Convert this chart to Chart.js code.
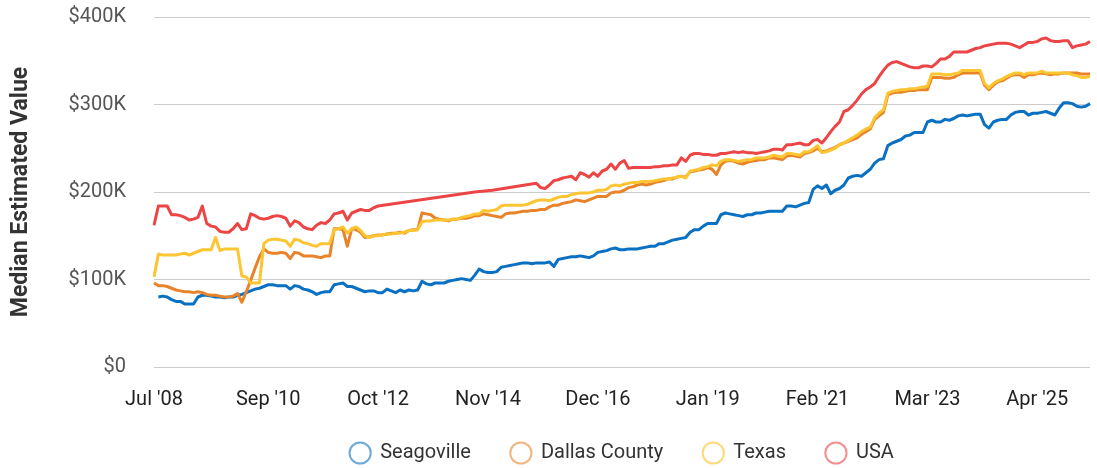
<!DOCTYPE html>
<html>
<head>
<meta charset="utf-8">
<script src="https://cdn.jsdelivr.net/npm/chart.js@4/dist/chart.umd.min.js"></script>
<style>
  html, body { margin: 0; padding: 0; background: #fff; }
  canvas { display: block; }
</style>
</head>
<body>
<canvas id="c" width="1097" height="468"></canvas>
<script>
// ---- data (values in $K), monthly from Jul 2008 ----
const startYear = 2008, startMonth = 6, monthCount = 214;
const monthNames = ['Jan','Feb','Mar','Apr','May','Jun','Jul','Aug','Sep','Oct','Nov','Dec'];
const tickLabels = ["Jul '08","Sep '10","Oct '12","Nov '14","Dec '16","Jan '19","Feb '21","Mar '23","Apr '25"];
const seriesNames = ['Seagoville','Dallas County','Texas','USA'];

const seagoville = [null,80,81,80,77,75,75,72,72,72,80,82,82,81,80,80,79,80,80,82,83,85,87,89,90,92,94,94,93,93,93,89,93,92,89,88,86,83,85,86,86,94,95,96,92,92,90,88,86,87,87,85,85,89,87,85,88,86,88,87,88,98,95,94,96,96,96,98,99,100,101,100,99,105,112,109,108,108,109,114,115,116,117,118,119,119,118,119,119,119,120,115,123,124,125,126,126,127,126,125,127,131,132,133,135,136,134,134,135,135,135,136,137,138,138,141,141,143,145,146,147,148,154,157,157,161,164,164,164,174,176,175,174,173,172,174,174,176,176,177,178,178,178,178,184,184,183,185,187,188,203,207,204,208,198,202,204,208,216,218,219,218,222,226,233,237,238,253,256,258,260,264,265,268,268,268,280,282,280,280,283,282,284,287,288,287,288,289,289,277,273,280,282,283,283,288,291,292,292,288,290,290,291,292,290,288,296,302,302,301,298,297,298,301];

const dallasCounty = [96,93,93,92,90,88,87,86,86,85,86,85,83,82,82,81,80,80,81,84,74,86,99,113,126,135,131,130,130,131,130,124,131,130,127,127,127,126,125,127,127,158,158,157,138,158,157,154,148,149,150,151,151,152,153,153,154,153,156,157,157,176,175,174,170,169,168,167,169,169,170,170,171,173,173,175,174,173,172,171,175,176,176,177,178,178,179,179,180,180,183,185,185,187,188,189,191,190,189,191,193,195,195,195,199,200,200,202,205,206,208,209,208,209,211,212,213,215,215,217,218,217,223,224,225,226,228,226,220,231,235,236,235,233,232,234,235,236,237,237,239,239,238,237,241,242,241,240,244,245,247,250,246,247,249,251,254,256,258,260,262,266,269,272,283,287,291,311,313,314,314,315,316,316,317,317,317,331,331,331,330,330,331,334,336,336,336,336,336,322,317,322,326,327,330,333,334,334,331,334,334,335,336,335,334,335,335,336,336,336,336,335,335,335];

const texas = [103,129,128,128,128,128,129,130,128,130,132,134,134,134,148,133,135,135,135,135,104,103,96,96,96,141,145,146,146,145,144,138,146,145,142,141,139,138,141,141,141,157,158,160,153,158,160,156,150,148,150,150,151,152,152,153,153,154,156,156,157,166,167,167,168,168,168,168,169,169,171,172,173,175,175,179,178,179,180,184,185,185,185,185,185,186,188,190,191,191,190,192,194,195,195,197,198,199,199,199,200,202,202,203,207,208,207,209,210,211,211,212,212,212,213,214,215,215,216,217,218,216,224,225,226,228,229,231,230,235,237,237,236,235,236,237,237,239,239,239,240,242,241,240,244,244,243,242,246,246,249,253,245,246,248,250,254,256,259,262,265,269,272,274,285,290,294,313,315,316,317,317,318,318,319,320,321,335,335,335,334,334,335,336,339,339,339,339,339,324,319,324,327,329,332,334,336,336,334,336,336,336,338,336,336,336,336,336,336,334,333,331,331,332];

const usa = [162,184,184,184,174,174,173,171,168,169,171,184,164,161,160,155,154,154,158,164,157,158,175,173,170,169,170,172,173,172,170,161,167,165,160,158,157,162,165,164,168,175,176,178,168,176,178,180,179,179,182,184,null,null,null,null,null,null,null,null,null,null,null,null,null,null,null,null,null,null,null,null,null,200,null,null,null,202,null,null,null,null,null,null,null,null,null,210,205,204,208,213,214,216,217,218,214,222,220,217,222,218,224,226,232,226,233,236,227,228,228,228,228,228,229,229,230,230,231,231,239,235,242,244,244,243,243,242,242,244,244,245,246,245,246,245,245,244,245,246,247,249,249,248,254,254,255,256,254,254,259,260,256,262,269,275,280,292,294,299,305,312,317,320,324,332,339,345,348,349,347,345,343,342,342,344,344,343,347,352,352,355,360,360,360,360,362,364,365,367,368,369,370,370,370,369,367,365,368,371,371,372,375,376,373,372,372,373,373,365,367,368,369,372];

const lineColors = ['#0a70c2', '#e8832a', '#fcc531', '#ec4545'];
const legendColors = ['rgba(10,112,194,0.6)', 'rgba(232,131,42,0.6)', 'rgba(252,197,49,0.65)', 'rgba(236,69,69,0.6)'];

const months = [];
for (let i = 0; i < monthCount; i++) {
  const m = (startMonth + i) % 12;
  const y = startYear + Math.floor((startMonth + i) / 12);
  months.push(monthNames[m] + " '" + String(y % 100).padStart(2, '0'));
}

const seriesData = [seagoville, dallasCounty, texas, usa];
const drawOrder = [3, 2, 1, 0];

Chart.defaults.font.family = 'Roboto, "Noto Sans", sans-serif';

// move the legend row up a little after layout (keeps wide horizontal item spacing)
const legendShift = {
  id: 'legendShift',
  afterLayout(chart) {
    const lg = chart.legend;
    if (lg) { lg.top -= 9; lg.bottom -= 9; }
  }
};

new Chart(document.getElementById('c'), {
  type: 'line',
  data: {
    labels: months,
    datasets: seriesNames.map((name, i) => ({
      label: name,
      data: seriesData[i],
      borderColor: lineColors[i],
      backgroundColor: lineColors[i],
      borderWidth: 3,
      pointRadius: 0,
      pointHoverRadius: 0,
      tension: 0,
      spanGaps: true,
      borderJoinStyle: 'round',
      order: drawOrder[i]
    }))
  },
  plugins: [legendShift],
  options: {
    responsive: false,
    animation: false,
    devicePixelRatio: 1,
    layout: { padding: { top: 17, right: 7, left: 0, bottom: -14 } },
    plugins: {
      tooltip: { enabled: false },
      legend: {
        position: 'bottom',
        fullSize: false,
        align: 'center',
        labels: {
          usePointStyle: true,
          boxWidth: 20,
          boxHeight: 15,
          padding: 40,
          color: '#333',
          font: { size: 20 },
          sort: (a, b) => a.datasetIndex - b.datasetIndex,
          generateLabels(chart) {
            const items = Chart.defaults.plugins.legend.labels.generateLabels(chart);
            items.forEach(it => {
              it.fillStyle = '#ffffff';
              it.strokeStyle = legendColors[it.datasetIndex];
              it.lineWidth = 2;
              it.pointStyle = 'circle';
            });
            return items;
          }
        }
      }
    },
    scales: {
      x: {
        type: 'category',
        grid: { display: false, drawTicks: false },
        border: { display: false },
        afterFit(scale) { scale.height = 45; },
        ticks: {
          autoSkip: false,
          maxRotation: 0,
          minRotation: 0,
          padding: 21,
          color: '#222',
          font: { size: 20 },
          callback(value) {
            const l = this.getLabelForValue(value);
            return tickLabels.includes(l) ? l : null;
          }
        }
      },
      y: {
        min: 0,
        max: 400,
        afterFit(scale) { scale.width = 154; scale.paddingTop = 10; scale.paddingBottom = 10; },
        grid: { color: '#cccccc', lineWidth: 1, drawTicks: false },
        border: { display: false },
        ticks: {
          stepSize: 100,
          padding: 28,
          color: '#555',
          font: { size: 20 },
          callback: v => v === 0 ? '$0' : '$' + v + 'K'
        },
        title: {
          display: true,
          text: 'Median Estimated Value',
          color: '#333',
          font: { size: 23, weight: 'bold' },
          padding: { top: 7, bottom: 0 }
        }
      }
    }
  }
});
</script>
</body>
</html>
